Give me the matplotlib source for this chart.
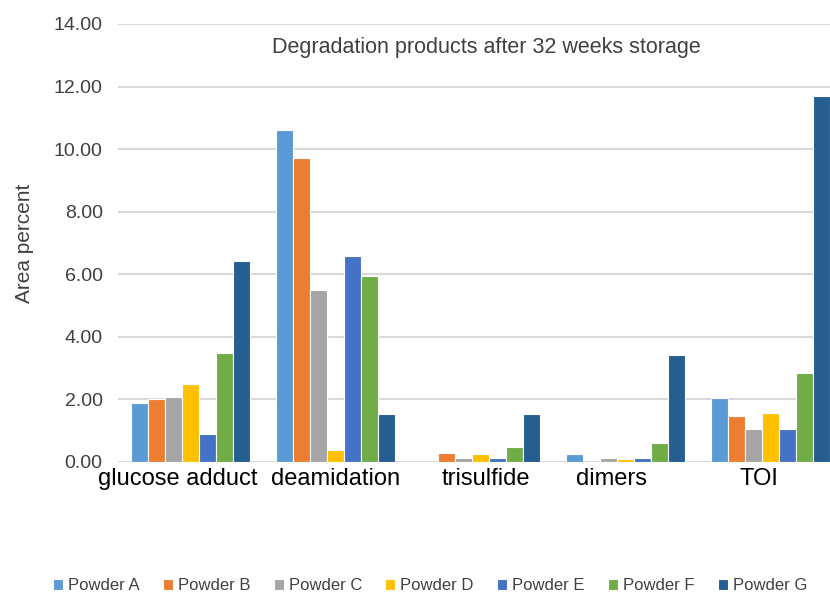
import numpy as np
import matplotlib
matplotlib.use("Agg")
import matplotlib.pyplot as plt
from matplotlib.transforms import ScaledTranslation

plt.rcParams['font.family'] = ['Liberation Sans', 'DejaVu Sans']

# --- dati ---
categorie = ["glucose adduct", "deamidation", "trisulfide", "dimers", "TOI"]
serie = ["Powder A", "Powder B", "Powder C", "Powder D", "Powder E", "Powder F", "Powder G"]
powder_a = [1.87, 10.61, 0.00, 0.27, 2.04]
powder_b = [2.02, 9.73, 0.28, 0.00, 1.48]
powder_c = [2.09, 5.50, 0.13, 0.12, 1.07]
powder_d = [2.49, 0.39, 0.25, 0.11, 1.57]
powder_e = [0.91, 6.59, 0.13, 0.14, 1.05]
powder_f = [3.49, 5.96, 0.49, 0.62, 2.86]
powder_g = [6.41, 1.54, 1.55, 3.42, 11.69]
valori = [powder_a, powder_b, powder_c, powder_d, powder_e, powder_f, powder_g]
colori = ["#5B9BD5", "#ED7D31", "#A5A5A5", "#FFC000", "#4472C4", "#70AD47", "#255E91"]
y_ticks = np.arange(0, 14.01, 2)

fig = plt.figure(figsize=(8.3, 5.94), dpi=100)
# asse: sinistra 118 px, destra oltre il bordo (843 px), alto 24 px, basso 462 px
ax = fig.add_axes([118 / 830, (594 - 462) / 594, 725 / 830, 438 / 594])

x = np.arange(len(categorie))
passo = 0.117
for i, (nome, v, c) in enumerate(zip(serie, valori, colori)):
    ax.bar(x + (i - 3) * passo, v, width=passo, color=c, edgecolor="white",
           linewidth=0.8, label=nome, zorder=3)

ax.set_xlim(-0.5, 4.5)
ax.set_ylim(0, 14)
ax.set_yticks(y_ticks)
ax.set_yticklabels([f"{t:.2f}" for t in y_ticks], fontsize=14, color="#404040")
ax.set_xticks(x)
ax.set_xticklabels(categorie, fontsize=17, color="black")
ax.tick_params(axis="both", length=0)
ax.tick_params(axis="y", pad=11)
ax.tick_params(axis="x", pad=4)

# le etichette dell'originale non sono centrate sui gruppi: piccolo spostamento in px
spostamenti_px = [-13, 0, 5.5, -14, -11.5]
for lab, dx in zip(ax.get_xticklabels(), spostamenti_px):
    lab.set_transform(lab.get_transform() + ScaledTranslation(dx / 100, 0, fig.dpi_scale_trans))

ax.grid(axis="y", color="#d9d9d9", linewidth=1.5, zorder=0)
for s in ax.spines.values():
    s.set_visible(False)
ax.set_axisbelow(True)

ax.set_ylabel("Area percent", fontsize=15, color="#404040", labelpad=14)

fig.text(486 / 830, 1 - 48 / 594, "Degradation products after 32 weeks storage",
         ha="center", va="center", fontsize=15.5, color="#404040")

fig.legend(loc="center", bbox_to_anchor=(430 / 830, 1 - 586 / 594), ncol=7,
           frameon=False, fontsize=12, handlelength=0.6, handleheight=0.6,
           handletextpad=0.3, columnspacing=1.4, labelcolor="#404040")

fig.savefig("out.png", dpi=100)
